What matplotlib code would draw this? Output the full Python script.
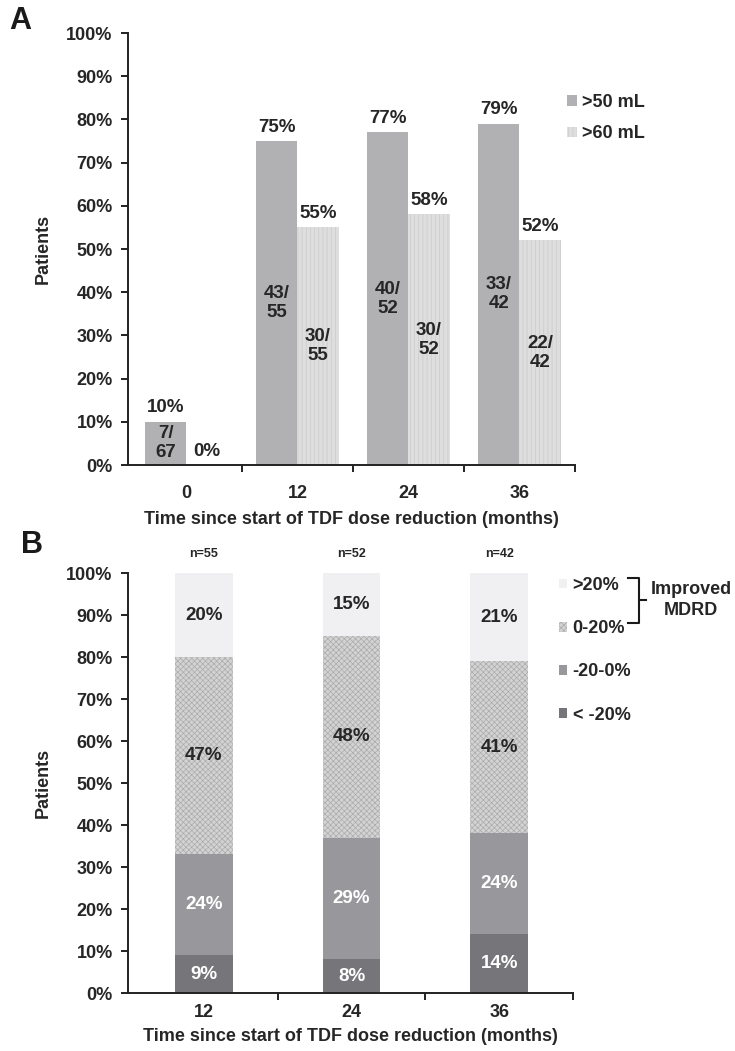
import matplotlib
matplotlib.use("Agg")
import matplotlib.pyplot as plt
from matplotlib.lines import Line2D
import numpy as np

plt.rcParams['font.family'] = ['Liberation Sans', 'DejaVu Sans']
plt.rcParams['font.weight'] = 'bold'
plt.rcParams['hatch.linewidth'] = 0.5

TXT = '#262626'
AX = '#222222'

# ---------------- data ----------------
months_a = ['0', '12', '24', '36']
pct_gt50 = [10, 75, 77, 79]
pct_gt60 = [0, 55, 58, 52]
frac_gt50 = ['7/\n67', '43/\n55', '40/\n52', '33/\n42']
frac_gt60 = ['', '30/\n55', '30/\n52', '22/\n42']

months_b = ['12', '24', '36']
n_b = [55, 52, 42]
seg_lt_m20 = [9, 8, 14]
seg_m20_0 = [24, 29, 24]
seg_0_20 = [47, 48, 41]
seg_gt20 = [20, 15, 21]

W, H = 735, 1051
fig = plt.figure(figsize=(W / 100, H / 100), dpi=100)

FS = 13
FSL = 13.5


def fx(px):
    return px / W


def fy(py):
    return 1 - py / H


def style_axes(ax, ncat, xpad):
    for s in ['top', 'right']:
        ax.spines[s].set_visible(False)
    for s in ['left', 'bottom']:
        ax.spines[s].set_linewidth(1.4)
        ax.spines[s].set_color(AX)
    ax.set_ylim(0, 100)
    ax.set_yticks(np.arange(0, 101, 10))
    ax.set_yticklabels([f'{v}%' for v in range(0, 101, 10)])
    ax.tick_params(axis='y', direction='out', length=5, width=1.4, color=AX,
                   labelsize=FS, labelcolor=TXT, pad=6)
    ax.set_xticks(np.arange(ncat))
    ax.tick_params(axis='x', which='major', length=0, labelsize=FS,
                   labelcolor=TXT, pad=xpad)
    ax.set_xticks(np.arange(ncat) + 0.5, minor=True)
    ax.tick_params(axis='x', which='minor', direction='out', length=5,
                   width=1.4, color=AX)
    ax.set_ylabel('Patients', fontsize=FS, color=TXT, fontweight='bold')


# ---------------- Panel A ----------------
axA = fig.add_axes([fx(128), fy(465), fx(575) - fx(128), fy(33) - fy(465)])
xa = np.arange(len(months_a))
bw = 0.37
b50 = axA.bar(xa - bw / 2, pct_gt50, width=bw, color='#b1b1b4',
              linewidth=0, label='>50 mL')
b60 = axA.bar(xa + bw / 2, pct_gt60, width=bw, color='#dedede',
              edgecolor='#cbcbcb', hatch='||||', linewidth=0, label='>60 mL')
axA.set_xlim(-0.527, 3.5)
style_axes(axA, len(months_a), 14.5)
axA.set_xticklabels(months_a)
axA.yaxis.set_label_coords(-0.17, 0.5)
axA.set_xlabel('Time since start of TDF dose reduction (months)',
               fontsize=FS, color=TXT, fontweight='bold')
axA.xaxis.set_label_coords(0.5, -0.107)

for xi, v, fr in zip(xa - bw / 2, pct_gt50, frac_gt50):
    axA.annotate(f'{v}%', (xi, v), xytext=(0, 10), textcoords='offset points',
                 ha='center', va='center', fontsize=FSL, color=TXT)
    axA.text(xi, v / 2, fr, ha='center', va='center', fontsize=FSL,
             color=TXT, linespacing=1.15)
for xi, v, fr in zip(xa + bw / 2, pct_gt60, frac_gt60):
    axA.annotate(f'{v}%', (xi, v), xytext=(0, 10), textcoords='offset points',
                 ha='center', va='center', fontsize=FSL, color=TXT)
    if fr:
        axA.text(xi, v / 2, fr, ha='center', va='center', fontsize=FSL,
                 color=TXT, linespacing=1.15)

fig.legend(handles=[b50, b60], loc='upper left',
           bbox_to_anchor=(fx(567), fy(94)), frameon=False, fontsize=FS,
           handlelength=0.55, handleheight=0.55, handletextpad=0.3,
           labelspacing=0.8, borderpad=0, borderaxespad=0,
           labelcolor=TXT)

fig.text(fx(20), fy(21), 'A', fontsize=22, fontweight='bold', color='#1a1a1a',
         ha='center', va='center')

# ---------------- Panel B ----------------
axB = fig.add_axes([fx(128), fy(993), fx(573) - fx(128), fy(573) - fy(993)])
xb = np.arange(len(months_b))
bwb = 0.39
s1 = axB.bar(xb, seg_lt_m20, width=bwb, color='#76767a', linewidth=0,
             label='< -20%')
bot = np.array(seg_lt_m20, dtype=float)
s2 = axB.bar(xb, seg_m20_0, width=bwb, bottom=bot, color='#98989c',
             linewidth=0, label='-20-0%')
bot2 = bot + np.array(seg_m20_0)
s3 = axB.bar(xb, seg_0_20, width=bwb, bottom=bot2, color='#d3d3d3',
             edgecolor='#ababab', hatch='xxxxxx', linewidth=0, label='0-20%')
bot3 = bot2 + np.array(seg_0_20)
s4 = axB.bar(xb, seg_gt20, width=bwb, bottom=bot3, color='#f0f0f2',
             linewidth=0, label='>20%')
axB.set_xlim(-0.514, 2.5)
style_axes(axB, len(months_b), 8)
axB.set_xticklabels(months_b)
axB.yaxis.set_label_coords(-0.171, 0.5)
axB.set_xlabel('Time since start of TDF dose reduction (months)',
               fontsize=FS, color=TXT, fontweight='bold')
axB.xaxis.set_label_coords(0.5, -0.083)

segs = [(seg_lt_m20, np.zeros(3), 'white'),
        (seg_m20_0, bot, 'white'),
        (seg_0_20, bot2, TXT),
        (seg_gt20, bot3, TXT)]
for vals, bottoms, col in segs:
    for xi, v, b in zip(xb, vals, bottoms):
        axB.text(xi, b + v / 2, f'{v}%', ha='center', va='center',
                 fontsize=FSL, color=col)

for xi, n in zip(xb, n_b):
    axB.annotate(f'n={n}', (xi, 100), xytext=(0, 14),
                 textcoords='offset points', ha='center', va='center',
                 fontsize=9, color=TXT)

fig.legend(handles=[s4, s3, s2, s1], loc='upper left',
           bbox_to_anchor=(fx(559), fy(577)), frameon=False, fontsize=FS,
           handlelength=0.45, handleheight=0.45, handletextpad=0.3,
           labelspacing=1.45, borderpad=0, borderaxespad=0,
           labelcolor=TXT)

# bracket for "Improved MDRD"
bx = [fx(628), fx(639), fx(639), fx(628)]
by = [fy(578), fy(578), fy(623), fy(623)]
fig.add_artist(Line2D(bx, by, color='#1a1a1a', lw=1.5))
fig.add_artist(Line2D([fx(639), fx(646)], [fy(600), fy(600)],
                      color='#1a1a1a', lw=1.5))
fig.text(fx(691), fy(600), 'Improved\nMDRD', ha='center', va='center',
         fontsize=FS, color=TXT, linespacing=1.3)

fig.text(fx(32), fy(545), 'B', fontsize=22, fontweight='bold',
         color='#1a1a1a', ha='center', va='center')

fig.savefig('out.png', dpi=100)
